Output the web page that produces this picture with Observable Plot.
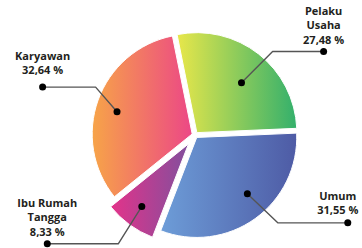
<!DOCTYPE html>
<html><head><meta charset="utf-8">
<script src="https://cdn.jsdelivr.net/npm/d3@7"></script>
<script src="https://cdn.jsdelivr.net/npm/@observablehq/plot@0.6"></script>
<style>body{margin:0;background:#fff}</style>
</head><body><div id="chart"></div>
<script>
// Data
const categories = ["Pelaku Usaha", "Umum", "Ibu Rumah Tangga", "Karyawan"];
const labelNames = ["Pelaku\nUsaha", "Umum", "Ibu Rumah\nTangga", "Karyawan"];
const shares = [27.48, 31.55, 8.33, 32.64];

// Styles
const gradientStops = [
  ["#e8e74a", "#33b06c"],
  ["#6d9dd8", "#4e5ba5"],
  ["#e3338a", "#824f9d"],
  ["#f7a448", "#ec4786"]
];
const explode = [0.03, 0.03, 0.11, 0.03];
// annotation layout: dot angle tweak (deg), dot radius, elbow angle tweak (deg), elbow radius, run, text offset x/y (px)
const annot = [
  {da: 3, dr: 0.70, ea: 4.5, er: 1.14, run: 0.51, tdx: 0, tdy: 8},
  {da: -6, dr: 0.78, ea: -7.6, er: 1.20, run: 0.70, tdx: -10, tdy: 9},
  {da: 1, dr: 0.89, ea: -0.6, er: 1.33, run: -0.71, tdx: 0, tdy: 8},
  {da: -3, dr: 0.82, ea: 6, er: 1.11, run: -0.53, tdx: 0, tdy: 13}
];

const start = -11.4 * Math.PI / 180;
const arcs = d3.pie().sort(null).startAngle(start).endAngle(start + 2 * Math.PI)(shares);
const rad = d => d * Math.PI / 180;
const PX = 0.01; // one pixel in chart units

const lineRows = [], dotRows = [], textRows = [];
arcs.forEach((a, i) => {
  const mid = (a.startAngle + a.endAngle) / 2;
  const L = annot[i];
  const ta = mid + rad(L.da), ea = mid + rad(L.ea);
  const p1 = {x: L.dr * Math.sin(ta), y: L.dr * Math.cos(ta)};
  const p2 = {x: L.er * Math.sin(ea), y: L.er * Math.cos(ea)};
  const p3 = {x: p2.x + L.run, y: p2.y};
  [p1, p2, p3].forEach(p => lineRows.push({...p, k: categories[i]}));
  dotRows.push(p1, p3);
  textRows.push({x: p3.x + L.tdx * PX, y: p3.y + L.tdy * PX,
    text: labelNames[i] + "\n" + shares[i].toFixed(2).replace(".", ",") + " %"});
});

function pieMark(index, scales) {
  const {x, y} = scales;
  const unit = x(1) - x(0);
  const g = d3.create("svg:g");
  const defs = g.append("defs");
  const arcGen = d3.arc().innerRadius(0).outerRadius(unit);
  arcs.forEach((a, i) => {
    const grad = defs.append("linearGradient").attr("id", "pg" + i)
      .attr("x1", 0).attr("x2", 1).attr("y1", 0).attr("y2", 0);
    grad.append("stop").attr("offset", 0).attr("stop-color", gradientStops[i][0]);
    grad.append("stop").attr("offset", 1).attr("stop-color", gradientStops[i][1]);
    const mid = (a.startAngle + a.endAngle) / 2;
    const ox = explode[i] * Math.sin(mid), oy = explode[i] * Math.cos(mid);
    g.append("path")
      .attr("transform", `translate(${x(ox)},${y(oy)})`)
      .attr("d", arcGen(a))
      .attr("fill", `url(#pg${i})`)
      .attr("stroke", "#fff").attr("stroke-width", 1);
  });
  return g.node();
}

const chart = Plot.plot({
  width: 362, height: 248, margin: 0,
  style: {fontFamily: "'Open Sans', sans-serif", fontSize: "11px", background: "#fff"},
  x: {domain: [-1.95, 1.67], axis: null},
  y: {domain: [-1.13, 1.35], axis: null},
  marks: [
    pieMark,
    Plot.line(lineRows, {x: "x", y: "y", z: "k", stroke: "#555", strokeWidth: 1.4}),
    Plot.dot(dotRows, {x: "x", y: "y", r: 3.5, fill: "#000"}),
    Plot.text(textRows, {x: "x", y: "y", text: "text", lineAnchor: "bottom", textAnchor: "middle",
      fontWeight: 700, fill: "#231f20", lineHeight: 1.3, fontSize: 11})
  ]
});
document.getElementById("chart").appendChild(chart);
</script>
</body></html>
